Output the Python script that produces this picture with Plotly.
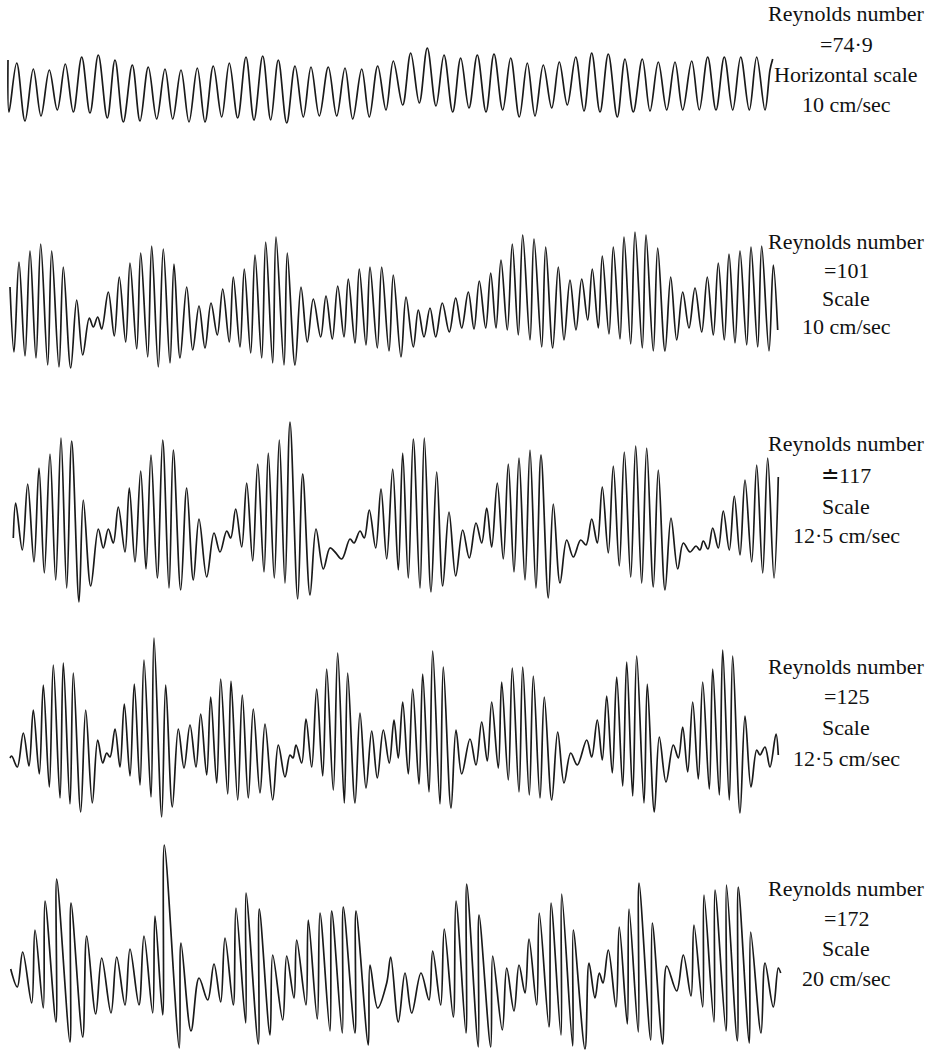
import plotly.graph_objects as go

# Oscillograph traces: extrema read from the record (time in record units, deflection in record units, upward positive)
t1 = [8, 9, 16.7, 25, 33.3, 41, 49.3, 57.3, 65.3, 73.3, 81.7, 90, 98.3, 107.3, 115, 123.3, 132.3, 140, 148.3, 156.7,
      165, 172.7, 181, 189, 197.3, 205, 213.3, 221.7, 229.3, 237.7, 246, 254, 262.7, 270.7, 278.3, 286.7, 295, 303.3,
      311, 319.3, 328.3, 336.7, 345, 352.7, 361.7, 369.3, 377.7, 386, 393.3, 402.7, 410.7, 419.3, 427.3, 436, 444,
      452.7, 460.7, 469, 477.3, 486, 494, 502.7, 510.7, 519.3, 527.3, 535, 543.3, 551.7, 559.3, 567.3, 575.7, 584,
      591.7, 600, 608.3, 617.3, 625, 633.3, 642.3, 650, 658.3, 666.7, 675, 682.7, 691.7, 699.3, 707.7, 716, 724.3,
      732.7, 740.7, 749.3, 756.7, 765, 770, 772.7]
v1 = [28, -24, 25, -33, 19, -28, 18, -22, 24, -24, 31, -25, 33, -30, 28, -34, 23, -33, 21, -31,
      19, -31, 18, -34, 20, -34, 22, -29, 25, -30, 31, -32, 32, -32, 28, -35, 22, -29,
      21, -28, 21, -28, 20, -31, 19, -29, 22, -22, 27, -17, 35, -15, 40, -18, 33,
      -24, 30, -20, 33, -24, 34, -22, 30, -29, 25, -28, 23, -20, 26, -17, 31, -23,
      35, -24, 34, -29, 29, -24, 29, -23, 26, -22, 26, -22, 27, -22, 31, -22, 31,
      -22, 31, -22, 31, -22, 18, 29]

t2 = [10, 14, 19, 25, 30, 36, 40.7, 47.7, 51.7, 59, 63.3, 70.7, 76.7, 82.7, 89.3, 93.3, 97.7, 101.7, 108.3, 114.3,
      119.3, 125.7, 130, 136.7, 140.7, 147.7, 151.7, 158.3, 163.3, 170, 174, 180, 186.7, 192.7, 199, 205, 211, 217.3,
      222.7, 229.3, 233.3, 240, 244.3, 250.7, 255, 261.7, 265.7, 272.7, 276, 284, 287.3, 295, 301, 307.3, 313.3,
      320.7, 326, 332.3, 337.7, 344, 348.3, 355, 359.3, 366, 370, 377.3, 381.7, 389, 393.3, 401, 406, 413.3, 418.3,
      424, 430, 435.7, 442.3, 449.3, 455.7, 461.7, 468.3, 474, 479.3, 485.7, 490.7, 496, 501, 507.3, 512.3, 518.3,
      522.7, 530, 534, 541.7, 545.7, 552.7, 558.3, 564, 570, 576, 581.7, 587.7, 592.3, 598.3, 602.3, 609, 613.3, 620,
      624, 630.7, 635, 642.3, 646, 653.3, 657.7, 665, 670.7, 676.7, 682.7, 689, 695, 701.7, 707.3, 713.3, 718.3,
      724.3, 729, 735, 740, 746.7, 751, 757.7, 761.7, 769, 773.3, 777.7]
v2 = [15, -50, 40, -54, 51, -56, 58, -63, 51, -65, 35, -66, 2, -53, -16, -25, -15, -27, 10, -34,
      25, -40, 39, -47, 49, -55, 56, -65, 53, -61, 38, -56, 15, -48, -4, -46, -1, -33,
      13, -40, 25, -45, 33, -51, 47, -56, 60, -61, 65, -63, 49, -63, 15, -40, 3,
      -35, 6, -37, 16, -35, 23, -41, 33, -43, 35, -46, 35, -49, 27, -55, 5, -45, -8,
      -35, -6, -35, -1, -30, 4, -26, 10, -27, 21, -26, 29, -26, 42, -28, 58, -33,
      67, -38, 63, -45, 55, -46, 35, -38, 22, -28, 23, -18, 33, -26, 46, -32, 55, -37,
      65, -42, 70, -46, 67, -49, 54, -49, 25, -38, 10, -26, 14, -30, 25, -33, 39,
      -38, 48, -41, 51, -43, 55, -45, 56, -49, 37, -28]

t3 = [13.3, 15.7, 22.3, 27.7, 34, 39, 44.3, 50, 55.7, 61, 66.7, 71.7, 79, 83.3, 90.7, 98.3, 103.3, 108.3, 113.3,
      118.3, 125, 129.3, 135, 140.7, 146, 151, 157.3, 162.7, 169, 173.3, 180.7, 186.7, 193.3, 199, 206.7, 214, 220,
      226.7, 230.7, 235.7, 241.7, 246.7, 252.7, 257.7, 264, 268.3, 274.3, 279.3, 285, 290, 297.7, 302.7, 310, 316,
      323.3, 330, 335, 341.7, 350, 354, 360, 364.3, 369.3, 375.7, 381, 386.7, 392.7, 398.3, 402.7, 408.3, 413.3, 420,
      424.3, 431, 436.7, 442.7, 449, 455.7, 462.7, 469.3, 476, 481.7, 486.7, 491.7, 497.3, 503.3, 508.3, 514, 519,
      525, 530, 536, 541, 548.3, 553.3, 560, 566.7, 573.3, 580.7, 586, 591.7, 597.3, 602.3, 608.3, 613.3, 619.3,
      624.3, 630.7, 635.7, 641.7, 646.7, 653.3, 658.3, 665, 671, 677.7, 683.3, 690, 696, 700, 703.3, 708, 712.7,
      718.3, 723.3, 729.3, 734.3, 740, 745, 751.7, 756.7, 762.7, 767.7, 774, 778.3]
v3 = [-23, 12, -35, 31, -47, 47, -58, 61, -65, 77, -73, 74, -87, 15, -71, -14, -33, -14, -28,
      8, -37, 27, -47, 44, -54, 60, -63, 75, -73, 65, -75, 27, -65, -4, -62, -18, -37,
      -16, -23, 6, -32, 32, -46, 51, -57, 62, -63, 75, -68, 93, -84, 41, -80, -14,
      -54, -33, -37, -44, -24, -28, -16, -23, 5, -33, 26, -44, 46, -55, 62, -63, 76, -73,
      77, -77, 43, -71, 3, -61, -15, -43, -8, -28, 7, -32, 32, -44, 51, -57, 57,
      -65, 65, -73, 60, -83, 11, -68, -25, -42, -25, -30, -4, -28, 28, -38, 49, -51,
      63, -62, 69, -68, 67, -72, 45, -75, -3, -54, -28, -37, -31, -35, -26, -34, -13,
      -33, 4, -35, 19, -40, 35, -47, 50, -58, 57, -63, 38]

t4 = [10, 11.7, 17.3, 23.3, 29, 33.3, 39.3, 43.3, 49.3, 53.3, 60, 63.3, 70, 73.3, 80.7, 85.7, 92.3, 97.7, 102.7,
      106.7, 110, 115, 120, 124.3, 130, 134.3, 140, 144, 151, 154, 161.7, 165.7, 172.3, 178.3, 184, 190, 196, 200.7,
      206.7, 210.7, 216.7, 220.7, 227.7, 231, 237.7, 242.3, 248.3, 253.3, 260, 265, 272.7, 278.3, 285, 290, 293,
      296, 301.7, 306, 311.7, 316.7, 322.7, 326.7, 333.3, 337.7, 344.3, 347.7, 355, 360, 366, 371.7, 377.3, 383.3,
      389.3, 394, 398.3, 402.7, 408.3, 412.7, 419, 422.7, 429, 432.7, 440, 443.3, 451, 456, 461.7, 470, 476, 481.7,
      487.3, 491.7, 498.3, 501.7, 508.3, 512.3, 519, 522.7, 529.3, 533.3, 540, 544.3, 551.7, 557.7, 564, 570.7,
      577.3, 586.7, 591.7, 597.3, 602.3, 606.7, 612.3, 616.7, 622.7, 626.7, 632.7, 636.7, 644, 647.3, 654.3, 659.3,
      666, 673.3, 678.3, 682.7, 687.7, 692.7, 698.3, 702.7, 709.3, 712.7, 719.3, 722.7, 729.3, 732.7, 740, 745, 751,
      756.7, 760, 765, 770, 776, 778.3]
v4 = [-23, -21, -32, 2, -31, 25, -39, 50, -52, 70, -63, 72, -69, 62, -77, 25, -68, -5, -28,
      -18, -22, 6, -32, 31, -41, 51, -50, 75, -62, 97, -82, 50, -72, 6, -33, 10, -32, 21,
      -40, 38, -48, 56, -59, 54, -65, 40, -63, 26, -58, 11, -65, -10, -42, -20, -23,
      -10, -28, 16, -32, 46, -41, 66, -55, 82, -68, 62, -68, 22, -53, 4, -43, 5,
      -28, 15, -23, 33, -39, 46, -49, 61, -57, 84, -69, 68, -73, 5, -39, -4, -30, 13,
      -26, 33, -33, 53, -45, 67, -57, 68, -60, 59, -63, 38, -65, 3, -48, -18,
      -30, -5, -22, 15, -25, 39, -38, 58, -51, 73, -61, 79, -68, 51, -77, -2,
      -47, -10, -23, 8, -37, 33, -44, 53, -54, 66, -60, 85, -65, 79, -78, 19, -52,
      -15, -20, -12, -32, 1, -20]

t5 = [10.7, 17.3, 22.7, 31.7, 35, 43.3, 45, 56, 56.7, 70, 71, 82.7, 86.7, 95.7, 101.7, 111, 116.7, 125, 130, 139,
      144, 152.7, 155, 162.7, 164.3, 179.3, 181, 191, 199, 207.7, 214, 220.7, 225, 233.3, 236, 245.7, 246, 258.3,
      259.3, 270, 272.7, 282.7, 286.7, 294, 296.7, 306, 308.3, 317.3, 320, 330, 331.7, 342.3, 343.3, 355, 356,
      368.3, 370, 377.7, 386.7, 390.7, 398.3, 405, 411.7, 421, 429, 432.7, 440.7, 444.3, 453.3, 456, 466, 466.7,
      478.3, 479, 490.7, 492.7, 502.3, 506.7, 514, 519, 525, 529, 536.7, 539.3, 549, 551, 561, 561.7, 572.7, 573.3,
      585, 589, 595, 599.3, 603, 608.3, 616, 619.3, 627.3, 629, 638.3, 639, 650.7, 652.3, 662.7, 666.7, 676.7,
      683.3, 691, 694, 702.7, 704, 714, 715, 726, 726.5, 737.3, 738.3, 749.3, 750.7, 761, 765, 773.3, 778.3, 780.7]
v5 = [-4, -22, 13, -38, 35, -43, 64, -57, 86, -77, 62, -72, 29, -49, 7, -48, 8, -40, 16, -40,
      29, -48, 49, -50, 120, -83, 22, -66, -13, -35, 1, -37, 27, -40, 57, -58, 72, -79,
      56, -70, 10, -55, 9, -33, 25, -40, 45, -54, 52, -66, 54, -68, 58, -68, 54,
      -80, 0, -43, -18, 8, -57, -8, -48, -8, -35, 14, -40, 36, -52, 64, -68, 81,
      -82, 50, -82, 9, -65, -3, -46, 0, -28, 26, -40, 52, -62, 62, -70, 71, -81, 35,
      -84, 2, -33, -8, -18, 15, -42, 38, -59, 56, -67, 82, -75, 42, -79, -1, -26,
      10, -31, 40, -42, 70, -57, 75, -66, 80, -76, 78, -78, 33, -68, 2, -42, -3, -8]

labels = [
    ["Reynolds number", "=74·9", "Horizontal scale", "10 cm/sec"],
    ["Reynolds number", "=101", "Scale", "10 cm/sec"],
    ["Reynolds number", "≐117", "Scale", "12·5 cm/sec"],
    ["Reynolds number", "=125", "Scale", "12·5 cm/sec"],
    ["Reynolds number", "=172", "Scale", "20 cm/sec"],
]

W, H = 933, 1056
baselines = [88, 302, 515, 735, 965]          # record zero line of each trace (page px)
label_rows = [[13, 45, 74, 104], [242, 271, 298, 326], [444, 475, 506, 535],
              [666, 696, 727, 758], [888, 918, 948, 978]]

series = [(t1, v1), (t2, v2), (t3, v3), (t4, v4), (t5, v5)]
fig = go.Figure()
layout_axes = {}
for k, (t, v) in enumerate(series):
    yname = "y" if k == 0 else f"y{k+1}"
    fig.add_trace(go.Scatter(x=t, y=v, mode="lines", yaxis=yname,
                             line=dict(color="#1a1a1a", width=1.7, shape="spline", smoothing=1.0),
                             hoverinfo="skip", showlegend=False))
    # map: value v -> page y = baseline - v
    ax = dict(range=[-(H - baselines[k]), baselines[k]], visible=False, fixedrange=True)
    if k > 0:
        ax["overlaying"] = "y"
    layout_axes["yaxis" if k == 0 else f"yaxis{k+1}"] = ax

annotations = []
for rows, texts in zip(label_rows, labels):
    for ypix, txt in zip(rows, texts):
        annotations.append(dict(x=846 / W, y=1 - ypix / H, xref="paper", yref="paper",
                                text=txt, showarrow=False, xanchor="center", yanchor="middle",
                                font=dict(family="Liberation Serif, Times New Roman, serif", size=22,
                                          color="#111111")))

fig.update_layout(width=W, height=H, margin=dict(l=0, r=0, t=0, b=0),
                  paper_bgcolor="white", plot_bgcolor="white",
                  xaxis=dict(range=[0, W], visible=False, fixedrange=True),
                  annotations=annotations, **layout_axes)
fig.write_html("out.html", config={"displayModeBar": False},
               post_script="document.body.style.margin='0';document.body.style.overflow='hidden';")
